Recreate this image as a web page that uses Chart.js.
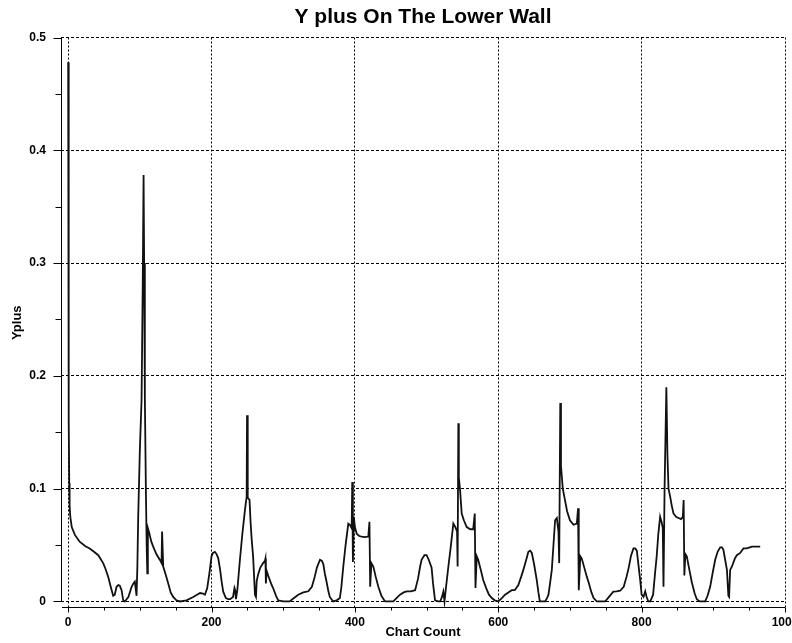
<!DOCTYPE html>
<html lang="en">
<head>
<meta charset="UTF-8">
<title>Y plus On The Lower Wall</title>
<script src="https://cdn.jsdelivr.net/npm/chart.js"></script>
<style>
    body { margin: 0; background: #fff; }
    #wrap { width: 792px; height: 643px; }
</style>
</head>
<body>
<div id="wrap"><canvas id="yplusChart" width="792" height="643"></canvas></div>
<script>
// Y+ along the lower wall, one value per chart count (cell index)
const chartCount = [
    0, 0.5, 1, 1.5, 2, 3, 5, 9.4, 16, 24, 30, 36, 42, 48.8, 52, 55.8, 59, 62.8, 65, 67.5,
    70, 72, 74.5, 76.8, 79, 81.5, 84, 88.5, 91, 93, 95.4, 96.5, 97.7, 100, 102.4, 104, 105.2, 106, 107, 108.4,
    109.5, 110.4, 111.2, 113, 116, 118.6, 123, 128, 130.3, 131, 131.8, 132.6, 136, 140, 143, 146.5, 151, 156, 165, 174.5,
    184, 188, 190.8, 194, 197, 200, 202, 204.7, 207, 209.3, 212, 214, 216.3, 220, 223.3, 226, 230, 232, 233, 234,
    236, 239.6, 243, 246.6, 249, 249.5, 250.5, 253, 254.5, 256, 258, 260.6, 262, 263, 265, 268, 272, 274.5, 275.2, 275.8,
    277, 279, 283, 286, 290, 293, 300, 309, 315, 321, 328, 335, 340, 344, 347, 351.3, 354, 356, 358, 360.6,
    363, 365, 369.7, 374.6, 379, 381, 383.8, 387, 390.8, 393, 395.5, 396.3, 397.2, 398.5, 400, 402.5, 406, 409.5, 414, 418.7,
    420.3, 421.3, 423, 425.7, 429, 432.7, 437, 442, 448, 453.6, 458, 463, 468, 472.3, 478, 484, 488, 491, 493, 497,
    500, 503, 507, 509, 511.8, 516, 519, 521.5, 523.4, 525, 527, 530.4, 534, 537.3, 540, 542.5, 543.3, 544.3, 545, 546.7,
    549, 552, 556, 561, 565, 567.2, 568.2, 570, 572, 576, 579, 583, 587, 591, 595, 600, 605, 609.5, 614, 618.8,
    623, 628, 632, 635, 639, 642, 644.5, 646.8, 650, 653.7, 656, 658, 662, 665.3, 668, 670, 672, 674.7, 677, 679.3,
    681.7, 684, 685, 686.5, 687.5, 690, 693, 696, 700, 705, 709.6, 711.3, 712.3, 714.5, 716.5, 720, 723.5, 726, 730, 733,
    737.5, 742, 749, 753, 757, 760.6, 765, 770, 775, 779, 782, 785, 788.6, 791, 793.3, 796, 798, 800, 802.6, 805,
    807, 809.4, 812, 814, 816, 818.7, 821, 823.3, 825.8, 828, 829.5, 830.5, 832, 834.5, 836, 837.5, 839.8, 842, 844.4, 848,
    851.4, 855, 857.5, 858.6, 859.6, 861, 863, 866, 870, 874, 877, 881, 886, 888.6, 892, 895.6, 899, 902.6, 906, 909.6,
    912, 914, 916.5, 919, 921, 922, 923.5, 926, 930, 932.8, 937.5, 942, 946.8, 953.8, 960, 965.4
];
const yplus = [
    0.478, 0.30, 0.16, 0.105, 0.085, 0.075, 0.066, 0.059, 0.053, 0.049, 0.047, 0.044, 0.041, 0.034, 0.029, 0.022, 0.014, 0.005, 0.006, 0.013,
    0.0146, 0.014, 0.010, 0.001, 0.0, 0.002, 0.004, 0.013, 0.016, 0.0176, 0.005, 0.03, 0.075, 0.134, 0.179, 0.28, 0.378, 0.30, 0.179, 0.10,
    0.05, 0.025, 0.065, 0.061, 0.053, 0.0486, 0.042, 0.0368, 0.034, 0.062, 0.062, 0.031, 0.024, 0.015, 0.008, 0.004, 0.001, 0.0, 0.001, 0.004,
    0.0075, 0.007, 0.006, 0.012, 0.025, 0.040, 0.043, 0.044, 0.042, 0.0385, 0.028, 0.018, 0.0087, 0.003, 0.002, 0.002, 0.004, 0.012, 0.010, 0.002,
    0.010, 0.037, 0.060, 0.081, 0.093, 0.165, 0.092, 0.090, 0.070, 0.055, 0.040, 0.006, 0.004, 0.018, 0.024, 0.030, 0.034, 0.036, 0.038, 0.016,
    0.027, 0.023, 0.016, 0.0117, 0.005, 0.001, 0.0, 0.0, 0.003, 0.006, 0.008, 0.009, 0.013, 0.022, 0.030, 0.037, 0.036, 0.033, 0.025, 0.017,
    0.009, 0.004, 0.0, 0.001, 0.003, 0.012, 0.031, 0.050, 0.069, 0.068, 0.065, 0.106, 0.035, 0.075, 0.066, 0.060, 0.058, 0.0575, 0.057, 0.0575,
    0.0707, 0.013, 0.034, 0.031, 0.022, 0.013, 0.005, 0.0, 0.0, 0.0, 0.003, 0.006, 0.008, 0.009, 0.009, 0.010, 0.020, 0.031, 0.037, 0.041,
    0.041, 0.037, 0.030, 0.016, 0.001, 0.0, 0.0, 0.004, 0.0087, 0.0, 0.012, 0.031, 0.050, 0.069, 0.066, 0.062, 0.031, 0.158, 0.110, 0.099,
    0.078, 0.072, 0.066, 0.064, 0.064, 0.078, 0.012, 0.040, 0.037, 0.027, 0.019, 0.012, 0.006, 0.003, 0.001, 0.0, 0.003, 0.006, 0.008, 0.010,
    0.010, 0.0146, 0.022, 0.028, 0.037, 0.044, 0.045, 0.043, 0.033, 0.019, 0.008, 0.0, 0.0, 0.0, 0.003, 0.006, 0.015, 0.028, 0.050, 0.072,
    0.074, 0.062, 0.034, 0.176, 0.120, 0.100, 0.090, 0.080, 0.072, 0.068, 0.069, 0.0826, 0.010, 0.040, 0.038, 0.030, 0.022, 0.017, 0.008, 0.003,
    0.0, 0.0, 0.0, 0.003, 0.006, 0.0087, 0.009, 0.0095, 0.013, 0.022, 0.030, 0.040, 0.047, 0.047, 0.045, 0.030, 0.019, 0.006, 0.004, 0.009,
    0.004, 0.0, 0.0, 0.003, 0.006, 0.025, 0.040, 0.060, 0.075, 0.070, 0.065, 0.013, 0.100, 0.190, 0.130, 0.100, 0.093, 0.085, 0.078, 0.075,
    0.074, 0.073, 0.075, 0.090, 0.023, 0.042, 0.040, 0.030, 0.017, 0.007, 0.002, 0.0, 0.0, 0.0, 0.005, 0.013, 0.025, 0.037, 0.044, 0.048,
    0.048, 0.046, 0.037, 0.028, 0.005, 0.004, 0.028, 0.031, 0.038, 0.041, 0.043, 0.047, 0.047, 0.0486, 0.0486, 0.0486
];
const xTicks = [0, 200, 400, 600, 800, 1000];
const yTicks = [0, 0.1, 0.2, 0.3, 0.4, 0.5];
const xMinorStep = 50;
const yMinorStep = 0.05;

const points = chartCount.map((c, i) => ({ x: c, y: yplus[i] }));

// solid axis lines with outward tick marks, set off from the dotted grid
const axisLines = {
    id: 'axisLines',
    afterDraw(chart) {
        const { ctx, chartArea, scales: { x, y } } = chart;
        ctx.save();
        ctx.strokeStyle = '#000';
        ctx.lineWidth = 1;
        ctx.beginPath();
        const ax = Math.round(chartArea.left) + 0.5;
        const yTop = y.getPixelForValue(yTicks[yTicks.length - 1]);
        const yZero = y.getPixelForValue(0);
        ctx.moveTo(ax, yTop);
        ctx.lineTo(ax, yZero);
        for (let v = 0; v <= 0.5 + 1e-9; v += yMinorStep) {
            const py = Math.round(y.getPixelForValue(v)) + 0.5;
            const major = Math.abs(v * 10 - Math.round(v * 10)) < 1e-6;
            ctx.moveTo(ax - (major ? 8 : 6), py);
            ctx.lineTo(ax, py);
        }
        const ay = Math.round(chartArea.bottom) - 0.5;
        ctx.moveTo(chartArea.left + 1, ay);
        ctx.lineTo(x.getPixelForValue(1000), ay);
        for (let v = 0; v <= 1000; v += xMinorStep) {
            const px = Math.round(x.getPixelForValue(v)) + 0.5;
            const major = v % 200 === 0;
            ctx.moveTo(px, ay);
            ctx.lineTo(px, ay + (major ? 5 : 3));
        }
        ctx.stroke();
        ctx.restore();
    }
};

const tickFont = { family: 'Arial, "Liberation Sans", sans-serif', size: 12, weight: 'bold' };
const titleFont = { family: 'Arial, "Liberation Sans", sans-serif', size: 13, weight: 'bold' };

new Chart(document.getElementById('yplusChart'), {
    type: 'scatter',
    data: {
        datasets: [{
            label: 'Yplus',
            data: points,
            showLine: true,
            borderColor: '#111',
            borderWidth: 1.8,
            pointRadius: 0,
            tension: 0
        }]
    },
    options: {
        responsive: false,
        animation: false,
        devicePixelRatio: 1,
        layout: { padding: { left: 0, right: 7, top: 0, bottom: 0 } },
        plugins: {
            legend: { display: false },
            tooltip: { enabled: false },
            title: {
                display: true,
                text: 'Y plus On The Lower Wall',
                fullSize: false,
                color: '#000',
                font: { family: 'Arial, "Liberation Sans", sans-serif', size: 21, weight: 'bold' },
                padding: { top: 5, bottom: 7.3 }
            }
        },
        scales: {
            x: {
                type: 'linear',
                min: -10,
                max: 1000,
                afterBuildTicks: s => { s.ticks = xTicks.map(v => ({ value: v })); },
                afterFit: s => { s.height = 35; s.paddingLeft = 0; s.paddingRight = 0; },
                ticks: { color: '#000', font: tickFont, padding: 7, maxRotation: 0, autoSkip: false, callback: v => String(v) },
                grid: { color: '#000', lineWidth: 1, drawTicks: false },
                border: { display: false, dash: [2, 2] },
                title: { display: true, text: 'Chart Count', color: '#000', font: titleFont, padding: { top: 0, bottom: 3 } }
            },
            y: {
                type: 'linear',
                min: -0.0058,
                max: 0.5,
                afterBuildTicks: s => { s.ticks = yTicks.map(v => ({ value: v })); },
                afterFit: s => { s.width = 61; s.paddingTop = 0; s.paddingBottom = 0; },
                ticks: {
                    color: '#000',
                    font: tickFont,
                    padding: 15,
                    callback: v => (v === 0 ? '0' : v.toFixed(1))
                },
                grid: { color: '#000', lineWidth: 1, drawTicks: false },
                border: { display: false, dash: [3, 2] },
                title: { display: true, text: 'Yplus', color: '#000', font: titleFont, padding: { top: 10, bottom: 0 } }
            }
        }
    },
    plugins: [axisLines]
});
</script>
</body>
</html>
